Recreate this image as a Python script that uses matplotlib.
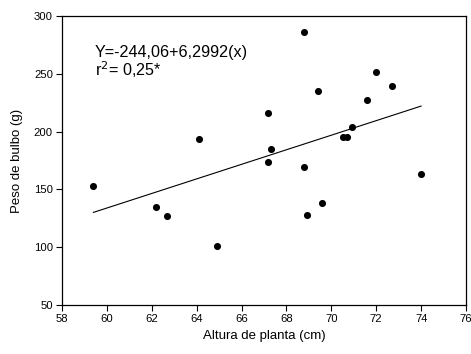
import matplotlib
matplotlib.use("Agg")
import matplotlib.pyplot as plt

plt.rcParams['font.family'] = ['Liberation Sans', 'DejaVu Sans']

# Plant height (cm) and bulb weight (g)
altura = [59.4, 62.2, 62.7, 64.9, 64.1, 68.8, 69.4, 67.2, 72.0, 72.7,
          71.6, 70.9, 70.5, 70.7, 67.3, 67.2, 68.8, 74.0, 68.9, 69.6]
peso = [152.7, 135.0, 127.3, 101.0, 193.3, 286.2, 235.1, 215.8, 251.6, 239.4,
        227.0, 204.0, 195.0, 195.0, 185.2, 173.4, 169.7, 163.3, 128.1, 138.5]

# Fitted linear regression
intercept = -244.06
slope = 6.2992
fit_x = [min(altura), max(altura)]
fit_y = [intercept + slope * x for x in fit_x]

xticks = [58, 60, 62, 64, 66, 68, 70, 72, 74, 76]
yticks = [50, 100, 150, 200, 250, 300]

fig = plt.figure(figsize=(4.71, 3.54), dpi=100)
ax = fig.add_axes([62 / 471, 1 - 305 / 354, 404 / 471, 289 / 354])

ax.scatter(altura, peso, s=26, color='black', zorder=3, linewidths=0)
ax.plot(fit_x, fit_y, color='black', linewidth=0.8)

ax.set_xlim(58, 76)
ax.set_ylim(50, 300)
ax.set_xticks(xticks)
ax.set_yticks(yticks)
ax.tick_params(direction='out', length=4, width=0.8, labelsize=8.1,
               top=False, right=False, pad=2.5)
for sp in ax.spines.values():
    sp.set_linewidth(0.9)

ax.set_xlabel('Altura de planta (cm)', fontsize=9.5, labelpad=4)
ax.set_ylabel('Peso de bulbo (g)', fontsize=9.5, labelpad=8)

ax.text(59.45, 264.5, 'Y=-244,06+6,2992(x)', fontsize=11.6, va='baseline')
ax.text(59.45, 248.0, r'r$^2$= 0,25*', fontsize=11.6, va='baseline')

fig.savefig('out.png', dpi=100)
